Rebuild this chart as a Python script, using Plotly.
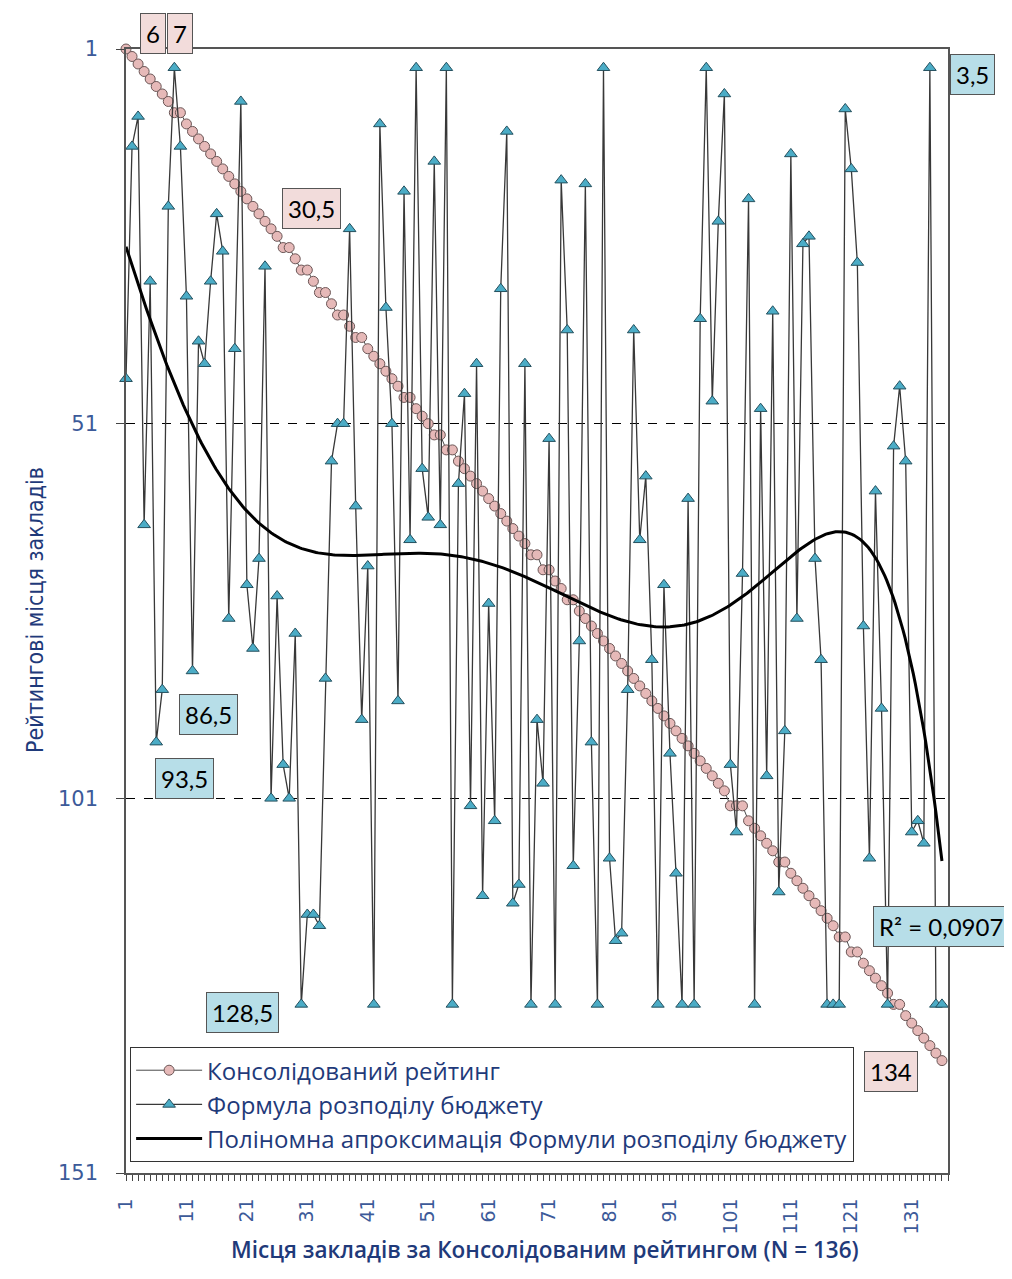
import numpy as np
import plotly.graph_objects as go

places = list(range(1, 137))

consolidated = [1, 2, 3, 4, 5, 6, 7, 8, 9.5, 9.5,
                11, 12, 13, 14, 15, 16, 17, 18, 19, 20,
                21, 22, 23, 24, 25, 26, 27.5, 27.5, 29, 30.5,
                30.5, 32, 33.5, 33.5, 35, 36.5, 36.5, 38, 39.5, 39.5,
                41, 42, 43, 44, 45, 46, 47.5, 47.5, 49, 50,
                51, 52.5, 52.5, 54.5, 54.5, 56, 57, 58, 59, 60,
                61, 62, 63, 64, 65, 66, 67, 68.5, 68.5, 70.5,
                70.5, 72, 73, 74.5, 74.5, 76, 77, 78, 79, 80,
                81, 82, 83, 84, 85, 86, 87, 88, 89, 90,
                91, 92, 93, 94, 95, 96, 97, 98, 99, 100,
                102, 102, 102, 104, 105, 106, 107, 108, 109.5, 109.5,
                111, 112, 113, 114, 115, 116, 117, 118, 119.5, 119.5,
                121.5, 121.5, 123, 124, 125, 126, 127, 128.5, 128.5, 130,
                131, 132, 133, 134, 135, 136]

budget = [45, 14, 10, 64.5, 32, 93.5, 86.5, 22, 3.5, 14,
          34, 84, 40, 43, 32, 23, 28, 77, 41, 8,
          72.5, 81, 69, 30, 101, 74, 96.5, 101, 79, 128.5,
          116.5, 116.5, 118, 85, 56, 51, 51, 25, 62, 90.5,
          70, 128.5, 11, 35.5, 51, 88, 20, 66.5, 3.5, 57,
          63.5, 16, 64.5, 3.5, 128.5, 59, 47, 102, 43, 114,
          75, 104, 33, 12, 115, 112.5, 43, 128.5, 90.5, 99,
          53, 128.5, 18.5, 38.5, 110, 80, 19, 93.5, 128.5, 3.5,
          109, 120, 119, 86.5, 38.5, 66.5, 58, 82.5, 128.5, 72.5,
          95, 111, 128.5, 61, 128.5, 37, 3.5, 48, 24, 7,
          96.5, 105.5, 71, 21, 128.5, 49, 98, 36, 113.5, 92,
          15, 77, 27, 26, 69, 82.5, 128.5, 128.5, 128.5, 9,
          17, 29.5, 78, 109, 60, 89, 128.5, 54, 46, 56,
          105.5, 104, 107, 3.5, 128.5, 128.5]

name_cons = "Консолідований рейтинг"
name_budget = "Формула розподілу бюджету"
name_trend = "Поліномна апроксимація Формули розподілу бюджету"
x_title = "Місця закладів за Консолідованим рейтингом (N = 136)"
y_title = "Рейтингові місця закладів"

# 6th-order polynomial trend fitted to the budget-formula series
poly = np.polynomial.Polynomial.fit(places, budget, 6)
trend_x = np.linspace(1, 136, 400)
trend_y = poly(trend_x)

fig = go.Figure()
fig.add_trace(go.Scatter(
    x=places, y=consolidated, mode="lines+markers", name=name_cons,
    legendgroup="a", cliponaxis=False,
    line=dict(color="#4a4a4a", width=1),
    marker=dict(symbol="circle", size=10, color="#E6B9B8",
                line=dict(color="#6b5656", width=1))))
fig.add_trace(go.Scatter(
    x=places, y=budget, mode="lines+markers", name=name_budget,
    legendgroup="b", cliponaxis=False,
    line=dict(color="#383838", width=1.3),
    marker=dict(symbol="triangle-up", size=11, color="#4BACC6",
                line=dict(color="#24505e", width=1))))
fig.add_trace(go.Scatter(
    x=trend_x, y=trend_y, mode="lines", name=name_trend,
    legendgroup="c", line=dict(color="black", width=3)))

tick_blue = "#3C5A99"
title_blue = "#1F3A7A"

# page has an 8px body margin: figure is shrunk so the plot area lands where the reference has it
W, H = 1004, 1271
L, T = 118, 41
PW, PH = 822, 1124

fig.update_layout(
    width=W, height=H,
    margin=dict(l=L, r=W - L - PW, t=T, b=H - T - PH),
    paper_bgcolor="white", plot_bgcolor="white",
    showlegend=True,
    legend=dict(x=0.005, y=0.112, xanchor="left", yanchor="top",
                bgcolor="white", bordercolor="#333333", borderwidth=1,
                font=dict(family="Open Sans", size=24, color=title_blue),
                tracegroupgap=0, itemwidth=66),
    xaxis=dict(range=[1, 137], tickmode="linear", tick0=1, dtick=10,
               tickangle=-90, ticks="outside", ticklen=6, tickcolor="#444",
               ticklabelstandoff=10,
               minor=dict(tick0=1, dtick=1, ticks="outside", ticklen=6,
                          tickcolor="#444", showgrid=False),
               showline=True, linecolor="#555", linewidth=1.5, mirror=True,
               showgrid=False, zeroline=False,
               tickfont=dict(family="DejaVu Sans", size=19, color=tick_blue)),
    yaxis=dict(range=[151, 1], tickmode="linear", tick0=1, dtick=50,
               ticks="outside", ticklen=8, tickcolor="#444",
               ticklabelstandoff=14,
               showline=True, linecolor="#555", linewidth=1.5, mirror=True,
               showgrid=True, gridcolor="black", griddash="dash", gridwidth=1,
               zeroline=False,
               tickfont=dict(family="DejaVu Sans", size=21, color=tick_blue)),
)

pink = "#F2DCDB"
blue = "#B7DEE8"
labels = [
    ("6", 0.0328, 1.0142, pink),
    ("7", 0.0657, 1.0142, pink),
    ("30,5", 0.2251, 0.8585, pink),
    ("134", 0.9307, 0.0907, pink),
    ("3,5", 1.0292, 0.9769, blue),
    ("86,5", 0.0998, 0.4075, blue),
    ("93,5", 0.0706, 0.3514, blue),
    ("128,5", 0.1423, 0.1432, blue),
    ("R² = 0,0907", 0.9915, 0.2189, blue),
]
for txt, xp, yp, col in labels:
    fig.add_annotation(x=xp, y=yp, xref="paper", yref="paper", text=txt,
                       xanchor="center", yanchor="middle",
                       showarrow=False, bgcolor=col, bordercolor="#555",
                       borderwidth=1, borderpad=5,
                       font=dict(family="Lato", size=24, color="black"))

fig.add_annotation(x=0.5097, y=-0.0685, xref="paper", yref="paper",
                   xanchor="center", yanchor="middle",
                   text=x_title, showarrow=False,
                   font=dict(family="Open Sans", size=22.5, weight=600, color=title_blue))
fig.add_annotation(x=-0.1107, y=0.5009, xref="paper", yref="paper",
                   xanchor="center", yanchor="middle",
                   text=y_title, showarrow=False, textangle=-90,
                   font=dict(family="Liberation Sans Narrow, DejaVu Sans Condensed, Open Sans",
                             size=23, color=title_blue))

fig.write_html("out.html")
